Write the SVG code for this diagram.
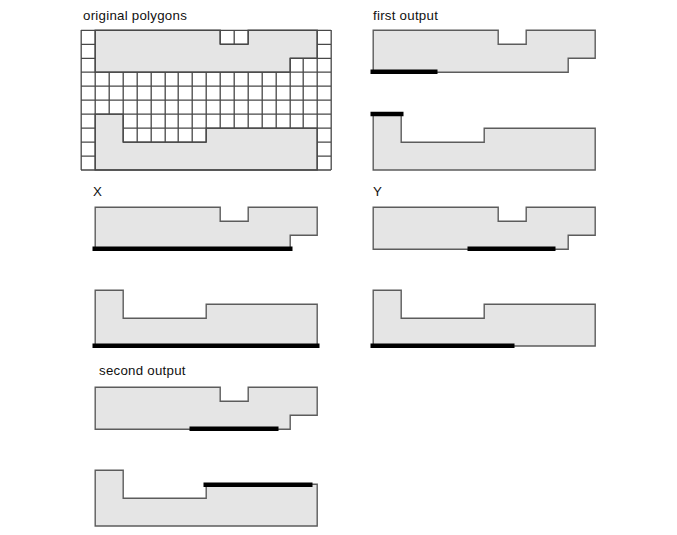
<svg xmlns="http://www.w3.org/2000/svg" width="677" height="535" viewBox="0 0 677 535">
<style>
text{font-family:"Liberation Sans",Arial,sans-serif;font-size:13.3px;letter-spacing:.25px;fill:#111}
.p{fill:#e5e5e5;stroke:#5c5c5c;stroke-width:1.4}
.g{fill:none;stroke:#484848;stroke-width:1.3}
.t{fill:none;stroke:#000;stroke-width:4.5;stroke-linecap:butt}
</style>
<defs>
<path id="up" d="M95.200 30.300H220.200V44.300H248.200V30.300H317.200V58.300H290.200V72.200H95.200Z"/>
<path id="lo" d="M95.200 114.200H123.200V142.200H206.200V128.200H317.200V170H95.200Z"/>
</defs>
<rect width="677" height="535" fill="#fff"/>
<g id="original-polygons">
<text x="83" y="20">original polygons</text>
<use href="#up" class="p"/><use href="#lo" class="p"/>
<path class="g" d="M81 30.300H331M81 44.300H95M317 44.300H331M81 58.300H95M317 58.300H331M81 72.200H331M81 86.200H331M81 100.200H331M81 114.200H331M81 128.200H95M123 128.200H317M317 128.200H331M81 142.200H95M123 142.200H206M317 142.200H331M81 156.200H95M317 156.200H331M81 170H331M81.200 30V170M95.200 30V170M331.200 30V170M317.200 30V170M109.200 72V114M123.200 72V142M137.200 72V142M151.200 72V142M165.200 72V142M178.200 72V142M192.200 72V142M206.200 72V142M220.200 72V128M234.200 72V128M248.200 72V128M262.200 72V128M276.200 72V128M290.200 58V128M303.200 58V128M220.200 30V44M234.200 30V44M248.200 30V44M220 44.300H248M290 58.300H317"/>
</g>
<g id="first-output">
<text x="373" y="20">first output</text>
<use href="#up" class="p" x="278"/><use href="#lo" class="p" x="278"/>
<path class="t" d="M370.500 71.800H437.500M370.500 114H403.500"/>
</g>
<g id="x">
<text x="93" y="196">X</text>
<use href="#up" class="p" y="177"/><use href="#lo" class="p" y="176"/>
<path class="t" d="M92.500 248.800H292.500M92.500 345.700H319.500"/>
</g>
<g id="y">
<text x="373" y="196">Y</text>
<use href="#up" class="p" x="278" y="177"/><use href="#lo" class="p" x="278" y="176"/>
<path class="t" d="M467.500 248.800H555.500M370.500 345.700H514.500"/>
</g>
<g id="second-output">
<text x="99" y="375">second output</text>
<use href="#up" class="p" y="357"/><use href="#lo" class="p" y="356"/>
<path class="t" d="M189.500 428.800H278.500M203.500 484.700H312.500"/>
</g>
</svg>
